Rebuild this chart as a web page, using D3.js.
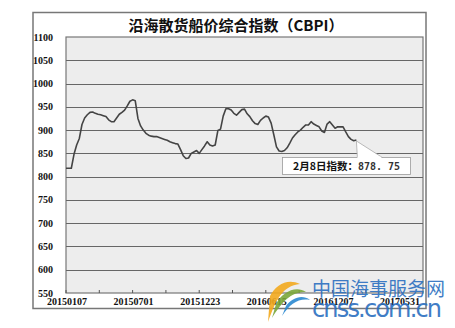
<!DOCTYPE html>
<html><head><meta charset="utf-8">
<script src="https://cdn.jsdelivr.net/npm/d3@7"></script>
<style>body{margin:0;background:#fff}svg{display:block}</style>
</head><body>
<script>
const title = "沿海散货船价综合指数（CBPI）";
const values = [818,818,818,848,868,882,912,926,933,938,939,936,934,933,931,929,922,918,918,926,
934,938,943,952,962,965,963,925,909,900,893,889,887,886,886,884,882,880,878,875,
873,871,870,858,845,839,840,850,853,856,850,858,866,875,868,866,868,899,902,930,
946,946,943,936,932,938,944,945,935,929,920,914,912,921,926,930,928,915,890,864,
855,854,856,862,872,883,890,896,900,906,911,911,918,913,910,907,898,895,913,918,
911,904,907,907,907,896,886,880,877,878.75];
const tickIdx = [0,25,50,75,100,125];
const tickLabels = ["20150107","20150701","20151223","20160615","20161207","20170531"];
const yTicks = [550,600,650,700,750,800,850,900,950,1000,1050,1100];
const calloutText = "2月8日指数：";
const calloutValue = "878. 75";

const W=455,H=328;
const svg=d3.select("body").append("svg").attr("width",W).attr("height",H);
// outer frame
svg.append("rect").attr("x",33).attr("y",12.5).attr("width",393).attr("height",296)
  .attr("fill","#fff").attr("stroke","#777").attr("stroke-width",1.5);
const x=d3.scaleLinear().domain([0,134]).range([66,423]);
const y=d3.scaleLinear().domain([550,1100]).range([293,37]);
svg.append("rect").attr("x",66).attr("y",37).attr("width",357).attr("height",256)
  .attr("fill","#ededed").attr("stroke","#777").attr("stroke-width",1.2);
// gridlines
svg.append("g").selectAll("line").data(yTicks.slice(1,-1)).join("line")
  .attr("x1",66).attr("x2",423).attr("y1",d=>Math.round(y(d))+0.5).attr("y2",d=>Math.round(y(d))+0.5)
  .attr("stroke","#666").attr("stroke-width",1);
// y labels
svg.append("g").selectAll("text").data(yTicks).join("text")
  .attr("x",53).attr("y",d=>y(d)+3.5).attr("text-anchor","end")
  .attr("font-family","Liberation Serif").attr("font-weight","bold").attr("font-size",10)
  .attr("fill","#111").text(d=>d);
// x minor ticks
const minor=d3.range(0,134,12.5);
svg.append("g").selectAll("line").data(minor).join("line")
  .attr("x1",d=>x(d)).attr("x2",d=>x(d)).attr("y1",293).attr("y2",290)
  .attr("stroke","#555");
// x labels
svg.append("g").selectAll("text").data(tickIdx).join("text")
  .attr("x",d=>x(d)+1).attr("y",305).attr("text-anchor","middle")
  .attr("font-family","Liberation Serif").attr("font-weight","bold").attr("font-size",10)
  .attr("fill","#111").text((d,i)=>tickLabels[i]);
// line
svg.append("path").datum(values)
  .attr("d",d3.line().x((d,i)=>x(i)).y(d=>y(d)))
  .attr("fill","none").attr("stroke","#444").attr("stroke-width",1.6).attr("stroke-linejoin","round");
// title
svg.append("text").attr("x",236).attr("y",31).attr("text-anchor","middle")
  .attr("font-family","Noto Sans CJK SC").attr("font-weight","bold").attr("font-size",15)
  .attr("fill","#111").text(title);
// callout
const li=values.length-1, px=x(li), py=y(values[li]);
svg.append("path").attr("d",`M${px},${py+1} L${px+1},157.5 L${px+26},157.5 Z`)
  .attr("fill","#fff").attr("stroke","#aaa").attr("stroke-width",0.8);
svg.append("rect").attr("x",282.5).attr("y",157.5).attr("width",128).attr("height",17)
  .attr("fill","#fff").attr("stroke","#999").attr("stroke-width",0.8);
svg.append("line").attr("x1",px+1).attr("x2",px+25).attr("y1",157.5).attr("y2",157.5).attr("stroke","#fff").attr("stroke-width",1.5);
const ct=svg.append("text").attr("x",293).attr("y",169.5).attr("font-size",10.5).attr("fill","#111");
ct.append("tspan").attr("font-family","Noto Sans CJK SC").attr("font-weight","bold").text(calloutText);
ct.append("tspan").attr("font-family","DejaVu Sans Mono").attr("font-weight","bold").attr("font-size",10).attr("fill","#333").text(calloutValue);
// watermark
const wm=svg.append("g");
wm.append("path").attr("d","M268,322 C276,300 282,286 300,284 C288,278 276,284 270,296 Z").attr("fill","#f2a81d").attr("opacity",0.9);
wm.append("path").attr("d","M272,318 C282,302 290,292 306,292 C296,285 282,292 276,304 Z").attr("fill","#7aa63a").attr("opacity",0.9);
wm.append("path").attr("d","M282,316 C290,304 298,298 310,300 C302,294 292,298 286,306 Z").attr("fill","#2a88d0").attr("opacity",0.9);
wm.append("text").attr("x",312).attr("y",296).attr("font-family","Noto Sans CJK SC").attr("font-size",19)
  .attr("fill","#2c6fc0").attr("opacity",0.9).text("中国海事服务网");
wm.append("text").attr("x",312).attr("y",317).attr("font-family","DejaVu Sans").attr("font-size",24)
  .attr("fill","#2c6fc0").attr("opacity",0.9).attr("textLength",130).text("cnss.com.cn");
</script>
</body></html>
